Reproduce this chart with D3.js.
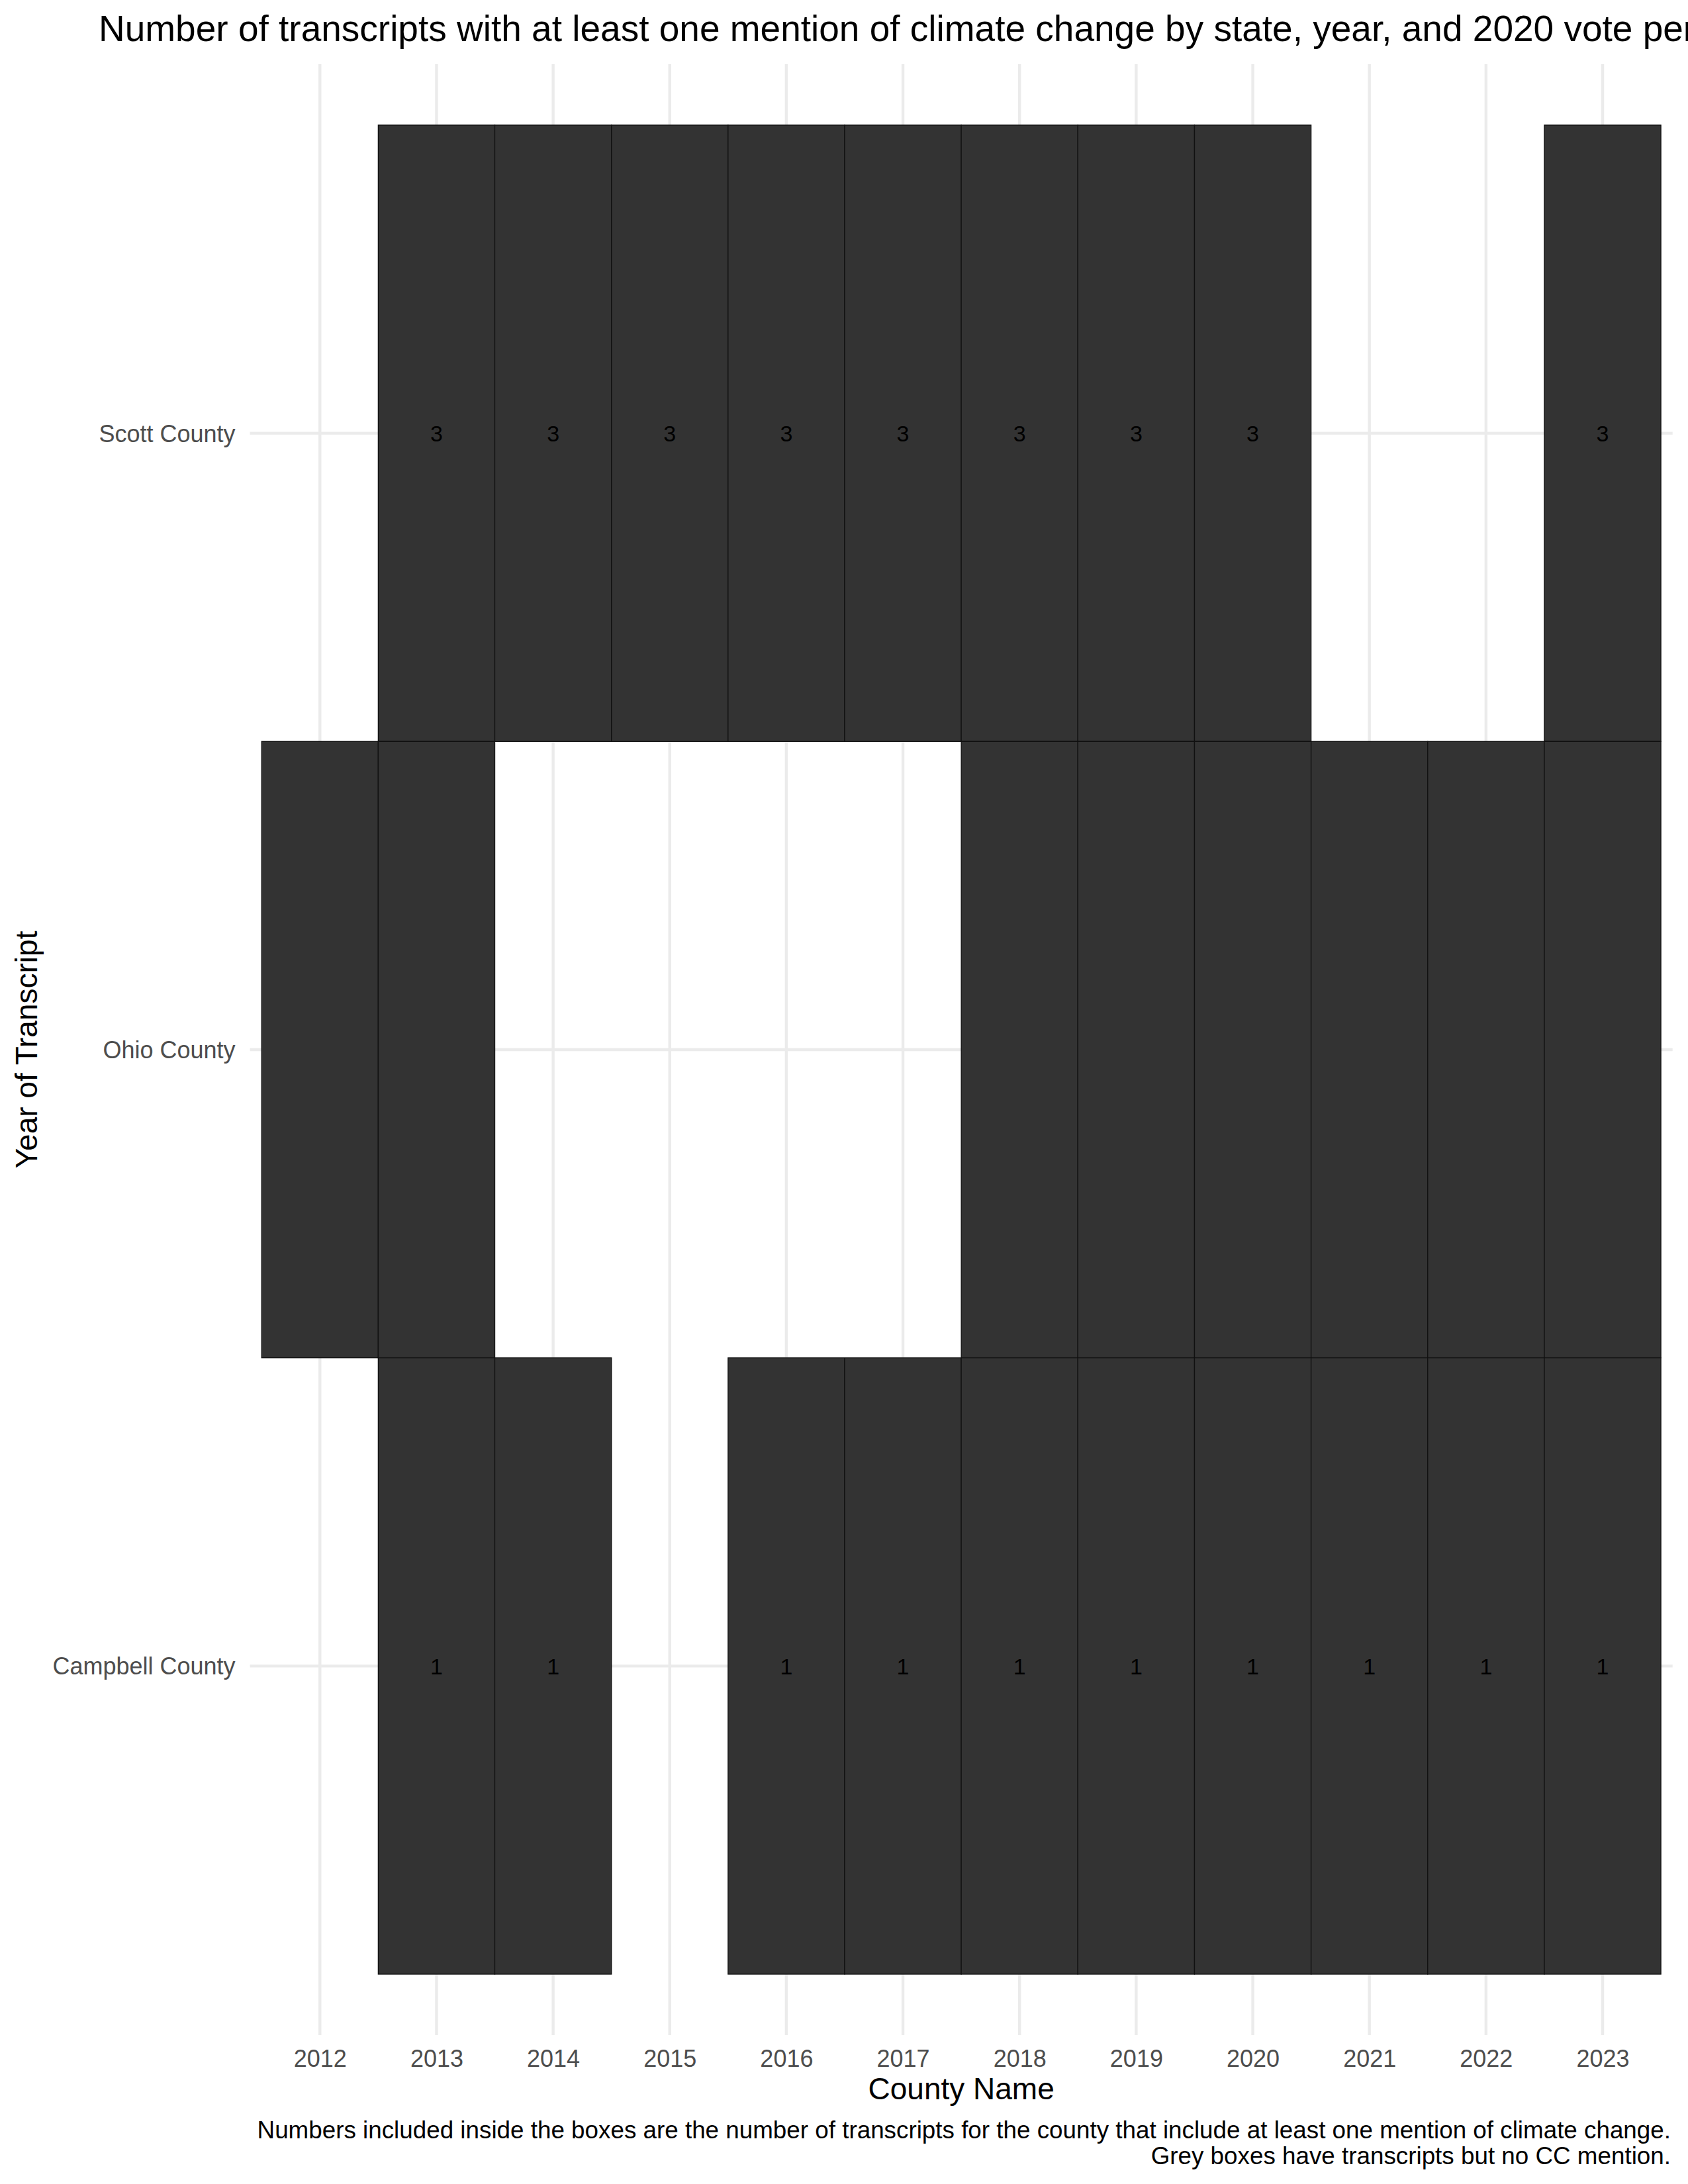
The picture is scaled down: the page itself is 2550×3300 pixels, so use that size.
<!DOCTYPE html>
<html>
<head>
<meta charset="utf-8">
<script src="https://cdn.jsdelivr.net/npm/d3@7"></script>
<style>
  html, body { margin: 0; padding: 0; background: #ffffff; }
  svg { display: block; font-family: "Liberation Sans", Arial, sans-serif; }
</style>
</head>
<body>
<script>
// ---- Data ----
const counties = ["Scott County", "Ohio County", "Campbell County"]; // top to bottom
const yearTicks = [2012, 2013, 2014, 2015, 2016, 2017, 2018, 2019, 2020, 2021, 2022, 2023];

const scottYears = [2013, 2014, 2015, 2016, 2017, 2018, 2019, 2020, 2023];
const scottCounts = [3, 3, 3, 3, 3, 3, 3, 3, 3];

const ohioYears = [2012, 2013, 2018, 2019, 2020, 2021, 2022, 2023];
const ohioCounts = [null, null, null, null, null, null, null, null];

const campbellYears = [2013, 2014, 2016, 2017, 2018, 2019, 2020, 2021, 2022, 2023];
const campbellCounts = [1, 1, 1, 1, 1, 1, 1, 1, 1, 1];

const titleText = "Number of transcripts with at least one mention of climate change by state, year, and 2020 vote percentage";
const xTitle = "County Name";
const yTitle = "Year of Transcript";
const captionLines = [
  "Numbers included inside the boxes are the number of transcripts for the county that include at least one mention of climate change.",
  "Grey boxes have transcripts but no CC mention."
];

// Build tile table
const tiles = [];
function addSeries(county, yrs, cnts) {
  yrs.forEach((y, i) => tiles.push({ county, year: y, n: cnts[i] }));
}
addSeries("Scott County", scottYears, scottCounts);
addSeries("Ohio County", ohioYears, ohioCounts);
addSeries("Campbell County", campbellYears, campbellCounts);

// ---- Layout ----
const W = 2550, H = 3300;
const panel = { left: 377.6, right: 2526.7, top: 97, bottom: 3075 };

const x = d3.scaleLinear()
  .domain([2011.4, 2023.6])
  .range([panel.left, panel.right]);

const y = d3.scaleBand()
  .domain(counties)
  .range([189, 2983])
  .padding(0);

const svg = d3.select("body").append("svg")
  .attr("width", W).attr("height", H)
  .attr("viewBox", `0 0 ${W} ${H}`);

svg.append("rect").attr("width", W).attr("height", H).attr("fill", "#ffffff");

// Gridlines
const grid = svg.append("g").attr("class", "grid");
grid.selectAll("line.vx").data(yearTicks).enter().append("line")
  .attr("class", "vx")
  .attr("x1", d => x(d)).attr("x2", d => x(d))
  .attr("y1", panel.top).attr("y2", panel.bottom)
  .attr("stroke", "#EBEBEB").attr("stroke-width", 4.4);
grid.selectAll("line.hy").data(counties).enter().append("line")
  .attr("class", "hy")
  .attr("x1", panel.left).attr("x2", panel.right)
  .attr("y1", d => y(d) + y.bandwidth() / 2).attr("y2", d => y(d) + y.bandwidth() / 2)
  .attr("stroke", "#EBEBEB").attr("stroke-width", 4.4);

// Tiles
const tileG = svg.append("g").attr("class", "tiles");
tileG.selectAll("rect").data(tiles).enter().append("rect")
  .attr("x", d => x(d.year - 0.5))
  .attr("width", d => x(d.year + 0.5) - x(d.year - 0.5))
  .attr("y", d => y(d.county))
  .attr("height", y.bandwidth())
  .attr("fill", "#333333")
  .attr("stroke", "#111111")
  .attr("stroke-width", 1.3);

// Tile labels
tileG.selectAll("text").data(tiles.filter(d => d.n != null)).enter().append("text")
  .attr("x", d => x(d.year))
  .attr("y", d => y(d.county) + y.bandwidth() / 2)
  .attr("dy", "0.36em")
  .attr("text-anchor", "middle")
  .attr("font-size", 34)
  .attr("fill", "#000000")
  .text(d => d.n);

// X axis (no line, no ticks)
const xAxis = d3.axisBottom(x).tickValues(yearTicks).tickFormat(d3.format("d")).tickSize(0).tickPadding(0);
const xg = svg.append("g").attr("transform", `translate(0, ${panel.bottom})`).call(xAxis);
xg.select(".domain").remove();
xg.selectAll("text")
  .attr("font-size", 36)
  .attr("fill", "#4D4D4D")
  .attr("font-family", "'Liberation Sans', Arial, sans-serif")
  .attr("dy", null)
  .attr("y", 48);

// Y axis (no line, no ticks)
const yAxis = d3.axisLeft(y).tickSize(0).tickPadding(0);
const yg = svg.append("g").attr("transform", `translate(${panel.left - 22}, 0)`).call(yAxis);
yg.select(".domain").remove();
yg.selectAll("text")
  .attr("font-size", 36)
  .attr("fill", "#4D4D4D")
  .attr("font-family", "'Liberation Sans', Arial, sans-serif")
  .attr("x", 0)
  .attr("dy", "0.36em");

// Title (overflows the right edge, as in the reference)
svg.append("text")
  .attr("x", 149).attr("y", 62)
  .attr("font-size", 55)
  .attr("fill", "#000000")
  .text(titleText);

// Axis titles
svg.append("text")
  .attr("x", (panel.left + panel.right) / 2).attr("y", 3172)
  .attr("text-anchor", "middle")
  .attr("font-size", 46)
  .attr("fill", "#000000")
  .text(xTitle);

svg.append("text")
  .attr("transform", `translate(56, ${(panel.top + panel.bottom) / 2}) rotate(-90)`)
  .attr("text-anchor", "middle")
  .attr("font-size", 46)
  .attr("fill", "#000000")
  .text(yTitle);

// Caption
svg.selectAll("text.caption").data(captionLines).enter().append("text")
  .attr("class", "caption")
  .attr("x", 2524)
  .attr("y", (d, i) => 3231 + i * 39)
  .attr("text-anchor", "end")
  .attr("font-size", 36.8)
  .attr("fill", "#000000")
  .text(d => d);
</script>
</body>
</html>
